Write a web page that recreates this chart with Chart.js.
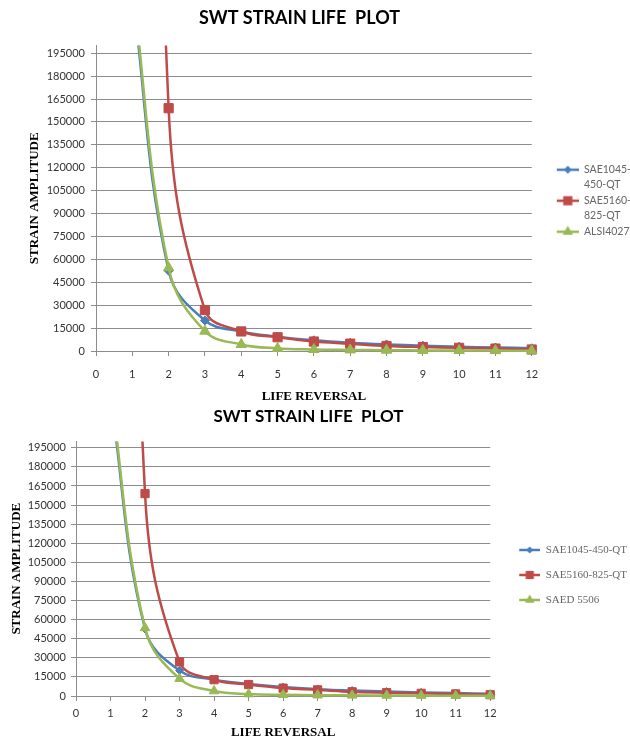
<!DOCTYPE html>
<html lang="en">
<head>
    <meta charset="UTF-8">
    <title>SWT Strain Life Plot</title>
    <script src="https://cdn.jsdelivr.net/npm/chart.js"></script>
    <style>
        body {
            margin: 0;
            background-color: #ffffff;
        }
        canvas {
            display: block;
        }
    </style>
</head>
<body>
    <canvas id="topChart" width="630" height="405"></canvas>
    <canvas id="bottomChart" width="630" height="335"></canvas>

    <script>
        // data (x = 1 values are off the top of the plot)
        const lifeReversal = [1, 2, 3, 4, 5, 6, 7, 8, 9, 10, 11, 12];
        const sae1045Qt = [235000, 52600, 20000, 12800, 9400, 7000, 5400, 4300, 3500, 2800, 2300, 1800];
        const sae5160Qt = [1100000, 159000, 26800, 12800, 9000, 6200, 4800, 3300, 2600, 2100, 1600, 1000];
        const alsi4027 = [240000, 54500, 13000, 4300, 1700, 1000, 700, 500, 400, 300, 250, 200];
        const saed5506 = [240000, 53500, 13600, 3900, 1500, 900, 650, 500, 400, 300, 250, 200];

        const xTickValues = [0, 1, 2, 3, 4, 5, 6, 7, 8, 9, 10, 11, 12];
        const yTickValues = [0, 15000, 30000, 45000, 60000, 75000, 90000, 105000, 120000,
                             135000, 150000, 165000, 180000, 195000];
        const yAxisMax = 200000;

        const topLegendLines = [['SAE1045-', '450-QT'], ['SAE5160-', '825-QT'], ['ALSI4027']];
        const bottomLegendLines = [['SAE1045-450-QT'], ['SAE5160-825-QT'], ['SAED 5506']];

        const BLUE = '#4A7EBB';
        const RED = '#BE4B48';
        const GREEN = '#98B954';
        const GRID = '#8c8c8c';

        // the excel title sits a bit left of the canvas centre
        const titleShift = {
            id: 'titleShift',
            afterLayout(chart, args, o) {
                const t = chart.titleBlock;
                if (t) {
                    t.left += o.dx;
                    t.right += o.dx;
                }
            }
        };

        // little "line + marker" picture for the legend
        function legendGlyph(color, shape, r, boxW, lineStart) {
            const c = document.createElement('canvas');
            c.width = boxW;
            c.height = 14;
            const g = c.getContext('2d');
            const cy = 7;
            const cx = (lineStart + boxW) / 2;
            g.strokeStyle = color;
            g.fillStyle = color;
            g.lineWidth = 2.5;
            g.beginPath();
            g.moveTo(lineStart, cy);
            g.lineTo(boxW, cy);
            g.stroke();
            g.beginPath();
            if (shape === 'rectRot') {
                g.moveTo(cx - r, cy); g.lineTo(cx, cy - r); g.lineTo(cx + r, cy); g.lineTo(cx, cy + r);
            } else if (shape === 'rect') {
                const s = r * Math.SQRT1_2;
                g.rect(cx - s, cy - s, 2 * s, 2 * s);
            } else {
                g.moveTo(cx, cy - r);
                g.lineTo(cx + r * 0.866, cy + r * 0.5);
                g.lineTo(cx - r * 0.866, cy + r * 0.5);
            }
            g.closePath();
            g.fill();
            return c;
        }

        function series(label, values, color, shape, radius, order) {
            return {
                label: label,
                data: lifeReversal.map((x, i) => ({ x: x, y: values[i] })),
                borderColor: color,
                backgroundColor: color,
                borderWidth: 2.5,
                pointStyle: shape,
                pointRadius: radius,
                pointHoverRadius: radius,
                pointBorderWidth: 1,
                tension: 0.4,
                capBezierPoints: false,
                clip: { left: 10, top: 0, right: 10, bottom: 10 },
                order: order
            };
        }

        function buildChart(id, opts) {
            const glyphs = [
                legendGlyph(BLUE, 'rectRot', opts.radii[0] - 0.5, opts.boxW, opts.glyphStart),
                legendGlyph(RED, 'rect', opts.radii[1], opts.boxW, opts.glyphStart),
                legendGlyph(GREEN, 'triangle', opts.radii[2], opts.boxW, opts.glyphStart)
            ];
            return new Chart(document.getElementById(id), {
                type: 'line',
                data: {
                    datasets: [
                        series('SAE1045-450-QT', sae1045Qt, BLUE, 'rectRot', opts.radii[0], 3),
                        series('SAE5160-825-QT', sae5160Qt, RED, 'rect', opts.radii[1], 2),
                        series(opts.greenLabel, opts.greenValues, GREEN, 'triangle', opts.radii[2], 1)
                    ]
                },
                plugins: [titleShift],
                options: {
                    responsive: false,
                    animation: false,
                    layout: { padding: { left: 0, top: 0, bottom: 0, right: opts.rightPad } },
                    scales: {
                        x: {
                            type: 'linear',
                            min: 0,
                            max: 12,
                            afterBuildTicks: s => { s.ticks = xTickValues.map(v => ({ value: v })); },
                            afterFit: s => { s.height = opts.xAxisHeight; },
                            grid: { drawOnChartArea: false, drawTicks: true, tickLength: 5, color: GRID },
                            border: { display: true, color: GRID },
                            ticks: {
                                autoSkip: false,
                                maxRotation: 0,
                                padding: opts.xTickPad,
                                color: '#333',
                                font: { family: 'Lato', size: 11 }
                            },
                            title: {
                                display: true,
                                text: 'LIFE REVERSAL',
                                color: '#000',
                                padding: { top: 0, bottom: opts.xTitlePad },
                                font: { family: 'Liberation Serif', size: 13, weight: 'bold' }
                            }
                        },
                        y: {
                            min: 0,
                            max: yAxisMax,
                            afterBuildTicks: s => { s.ticks = yTickValues.map(v => ({ value: v })); },
                            afterFit: s => { s.width = opts.yAxisWidth; },
                            grid: { color: GRID, tickLength: 5 },
                            border: { display: true, color: GRID },
                            ticks: {
                                padding: opts.yTickPad,
                                color: '#333',
                                font: { family: 'Lato', size: 11 },
                                callback: v => String(v)
                            },
                            title: {
                                display: true,
                                text: 'STRAIN AMPLITUDE',
                                color: '#000',
                                padding: { top: opts.yTitlePad, bottom: 0 },
                                font: { family: 'Liberation Serif', size: 13, weight: 'bold' }
                            }
                        }
                    },
                    plugins: {
                        titleShift: { dx: opts.titleDx },
                        title: {
                            display: true,
                            text: 'SWT STRAIN LIFE  PLOT',
                            color: '#000',
                            padding: opts.titlePad,
                            font: { family: 'Lato', size: opts.titleSize, weight: 'bold', lineHeight: 1.2 }
                        },
                        legend: {
                            display: true,
                            position: 'right',
                            align: 'center',
                            title: { display: true, text: ' ', padding: 0, font: { size: 8, lineHeight: opts.legendShift + 'px' } },
                            labels: {
                                usePointStyle: true,
                                pointStyleWidth: opts.boxW,
                                padding: opts.legendPad,
                                color: '#222',
                                font: opts.legendFont,
                                generateLabels: chart => chart.data.datasets.map((ds, i) => ({
                                    text: opts.legendLines[i],
                                    fillStyle: ds.borderColor,
                                    strokeStyle: ds.borderColor,
                                    lineWidth: 0,
                                    pointStyle: glyphs[i],
                                    hidden: false,
                                    datasetIndex: i
                                }))
                            }
                        },
                        tooltip: { enabled: false }
                    }
                }
            });
        }

        window.onload = function () {
            buildChart('topChart', {
                greenLabel: 'ALSI4027',
                greenValues: alsi4027,
                legendLines: topLegendLines,
                radii: [4.5, 6.5, 6],
                titleSize: 18,
                titleDx: -21,
                titlePad: { top: 7, bottom: 17 },
                yAxisWidth: 96,
                yTickPad: 6,
                yTitlePad: 27,
                xAxisHeight: 54,
                xTickPad: 12,
                xTitlePad: 1,
                rightPad: -11,
                boxW: 46,
                glyphStart: 24,
                legendPad: 1,
                legendShift: 1,
                legendFont: { family: 'Lato', size: 10.5, lineHeight: '15px' }
            });
            buildChart('bottomChart', {
                greenLabel: 'SAED 5506',
                greenValues: saed5506,
                legendLines: bottomLegendLines,
                radii: [4, 5.8, 5.5],
                titleSize: 17,
                titleDx: -10,
                titlePad: { top: 1, bottom: 15 },
                yAxisWidth: 76,
                yTickPad: 5,
                yTitlePad: 9,
                xAxisHeight: 44,
                xTickPad: 6,
                xTitlePad: 0,
                rightPad: -7,
                boxW: 47,
                glyphStart: 26,
                legendPad: 3,
                legendShift: 16,
                legendFont: { family: 'Liberation Serif', size: 11, lineHeight: '22px' }
            });
        };
    </script>
</body>
</html>
